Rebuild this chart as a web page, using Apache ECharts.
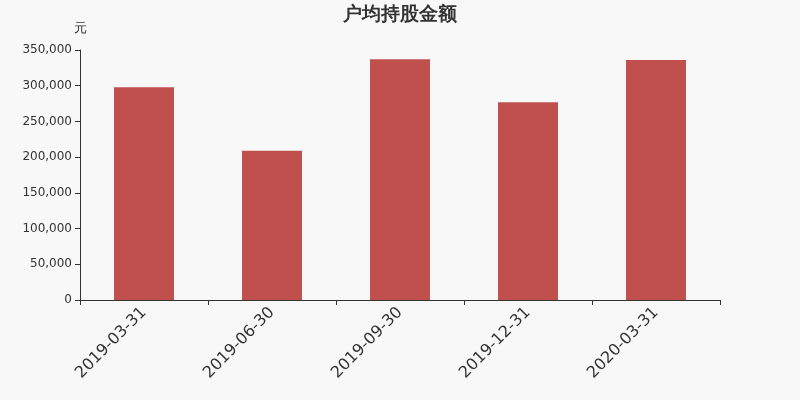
<!DOCTYPE html>
<html>
<head>
<meta charset="utf-8">
<script src="https://cdn.jsdelivr.net/npm/echarts@6/dist/echarts.min.js"></script>
<style>
  html, body { margin: 0; padding: 0; background: #f8f8f8; }
  #main { width: 800px; height: 400px; }
</style>
</head>
<body>
<div id="main"></div>
<script>
  var dates = ['2019-03-31', '2019-06-30', '2019-09-30', '2019-12-31', '2020-03-31'];
  var amounts = [298000, 209000, 337000, 277000, 336000];
  var yTicks = [0, 50000, 100000, 150000, 200000, 250000, 300000, 350000];

  var chartDom = document.getElementById('main');
  var myChart = echarts.init(chartDom);
  var option;

  option = {
    backgroundColor: '#f8f8f8',
    textStyle: { fontFamily: 'DejaVu Sans' },
    title: {
      text: '户均持股金额',
      left: 'center',
      top: 1,
      textStyle: { fontSize: 19, fontWeight: 'bold', color: '#333', fontFamily: 'DejaVu Sans' }
    },
    grid: { left: 80, right: 80, top: 50, bottom: 100 },
    xAxis: {
      type: 'category',
      data: dates,
      axisLine: { lineStyle: { color: '#333' } },
      axisTick: { show: true },
      axisLabel: { rotate: 45, fontSize: 16, color: '#333', margin: 10, fontFamily: 'DejaVu Sans' }
    },
    yAxis: {
      type: 'value',
      name: '元',
      nameTextStyle: { color: '#333', fontSize: 13, fontFamily: 'DejaVu Sans' },
      min: yTicks[0],
      max: yTicks[yTicks.length - 1],
      interval: 50000,
      axisLine: { show: true, lineStyle: { color: '#333' } },
      axisTick: { show: true },
      splitLine: { show: false },
      axisLabel: {
        color: '#333',
        fontSize: 12,
        fontFamily: 'DejaVu Sans',
        formatter: function (v) { return v.toLocaleString('en-US'); }
      }
    },
    series: [
      {
        type: 'bar',
        data: amounts,
        barWidth: 60,
        itemStyle: { color: '#c0504d' }
      }
    ]
  };

  option && myChart.setOption(option);
</script>
</body>
</html>
